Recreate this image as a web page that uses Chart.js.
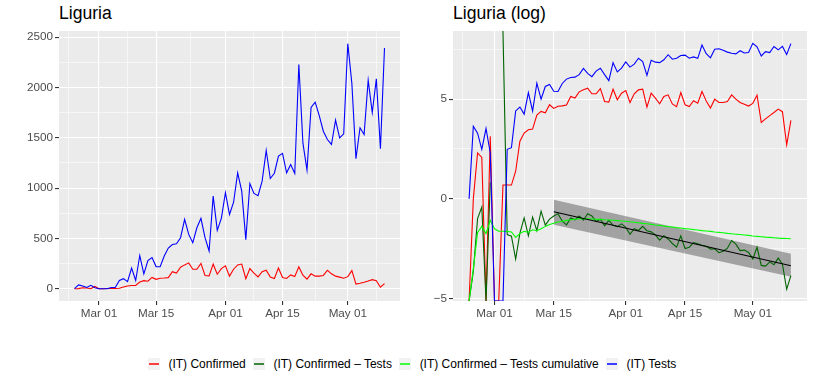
<!DOCTYPE html>
<html lang="en">
<head>
<meta charset="UTF-8">
<title>Liguria</title>
<script src="https://cdn.jsdelivr.net/npm/chart.js"></script>
<style>
  body { margin: 0; background: #fff; font-family: "Liberation Sans", Arial, sans-serif; }
  #page { position: relative; width: 814px; height: 380px; overflow: hidden; }
  .title { position: absolute; top: 3px; font-size: 17.6px; color: #000; white-space: nowrap; }
  canvas { position: absolute; top: 0; }
  #legend { position: absolute; left: 10px; top: 355px; width: 804px; height: 17px;
            display: flex; justify-content: center; align-items: center; font-size: 12px; color: #000; }
  .item { display: flex; align-items: center; margin-right: 7px; }
  .item:last-child { margin-right: 0; }
  .item svg { display: block; margin-right: 8.7px; }
</style>
</head>
<body>
<div id="page">
  <div class="title" style="left:59px">Liguria</div>
  <div class="title" style="left:453px">Liguria (log)</div>
  <canvas id="linChart" width="410" height="330" style="left:0;width:410px;height:330px"></canvas>
  <canvas id="logChart" width="404" height="330" style="left:410px;width:404px;height:330px"></canvas>
  <div id="legend"></div>
</div>
<script>
// daily values for Liguria, 2020-02-24 .. 2020-05-10
const firstDay = '2020-02-24';
const confirmed = [0, 1, 10, 8, 0, 23,
  0, 0, 2, 2, 2, 4, 18, 27, 32, 33,
  67, 80, 75, 112, 93, 104, 106, 110, 169, 156,
  214, 237, 257, 194, 194, 252, 132, 128, 244, 144,
  200, 228, 125, 194, 236, 245, 99, 200, 156, 117,
  169, 184, 117, 102, 206, 112, 102, 137, 121, 217,
  135, 95, 148, 125, 125, 132, 184, 148, 125, 115,
  105, 120, 180, 46, 55, 65, 76, 90, 79, 15, 51];
const tests = [1, 38, 27, 12, 34, 10,
  0, 0, 0, 12, 13, 82, 100, 70, 205, 82,
  330, 148, 280, 310, 220, 218, 325, 405, 440, 447,
  507, 690, 540, 457, 606, 700, 507, 375, 921, 580,
  700, 954, 738, 860, 1152, 970, 488, 1046, 947, 925,
  1069, 1374, 1096, 1148, 1318, 1346, 1152, 1235, 1146, 2229,
  1447, 1179, 1803, 1855, 1720, 1566, 1483, 1434, 1676, 1500,
  1540, 2436, 2040, 1292, 1600, 1533, 2073, 1752, 2086, 1392, 2394];
// log(cumulative confirmed / cumulative tests)
const cumulativeLog = [-Infinity, -3.5, -1.7, -1.38, -1.74, -1.07,
  -1.5, -1.62, -1.62, -1.63, -1.66, -1.93, -1.74, -1.63, -1.67, -1.55,
  -1.6, -1.5, -1.38, -1.28, -1.22, -1.16, -1.12, -1.08, -1.05, -1.02,
  -1.0, -0.99, -1.0, -1.01, -1.02, -1.03, -1.05, -1.06, -1.07, -1.09,
  -1.11, -1.12, -1.15, -1.17, -1.2, -1.23, -1.25, -1.28, -1.31, -1.33,
  -1.36, -1.39, -1.41, -1.44, -1.46, -1.49, -1.51, -1.54, -1.56, -1.59,
  -1.61, -1.63, -1.66, -1.68, -1.7, -1.73, -1.75, -1.77, -1.79, -1.81,
  -1.83, -1.86, -1.88, -1.9, -1.92, -1.93, -1.95, -1.97, -1.98, -1.99, -2.0];

// linear fit of log(confirmed/tests) from Mar 15, with its band
const fitDates = ['2020-03-15', '2020-05-10'];
const fitLine = [-0.65, -3.35];
const fitUpper = [-0.05, -2.75];
const fitLower = [-1.3, -3.9];

const tickDates = ['2020-03-01', '2020-03-15', '2020-04-01', '2020-04-15', '2020-05-01'];
const tickLabels = ['Mar 01', 'Mar 15', 'Apr 01', 'Apr 15', 'May 01'];
const outerDates = ['2020-02-15', '2020-05-15'];

const seriesNames = ['(IT) Confirmed', '(IT) Confirmed \u2013 Tests', '(IT) Confirmed \u2013 Tests cumulative', '(IT) Tests'];
const seriesColors = ['#ff0000', '#006400', '#00ff00', '#0000ff'];

const DAY = 86400000;
const origin = Date.parse(tickDates[0]);
const toDay = s => Math.round((Date.parse(s) - origin) / DAY);
const start = toDay(firstDay);
const days = confirmed.map((_, i) => start + i);

const majorX = tickDates.map(toDay);
const allMajorX = [toDay(outerDates[0])].concat(majorX, [toDay(outerDates[1])]);
const minorX = allMajorX.slice(1).map((v, i) => (v + allMajorX[i]) / 2);
const xTicks = majorX.concat(minorX).sort((a, b) => a - b);

// infinite logs sit on the panel edges, like ggplot draws them
const LOG_MIN = -5.12, LOG_MAX = 8.415;
const edge = v => v === -Infinity ? LOG_MIN : (v === Infinity ? LOG_MAX : v);
function logRatio(c, t) {
  if (c === 0 && t === 0) return null;
  return edge(Math.log(c / t));
}

const pts = arr => arr.map((v, i) => ({ x: days[i], y: v }));
const font = { family: '"Liberation Sans", Arial, sans-serif', size: 11.7 };

function xScale() {
  return {
    type: 'linear', min: -9.8, max: 73.8,
    afterBuildTicks: s => { s.ticks = xTicks.map(v => ({ value: v })); },
    afterFit: s => { s.height = 29; },
    border: { display: false },
    grid: {
      color: '#ffffff',
      lineWidth: c => majorX.includes(c.tick.value) ? 1.1 : 0.55,
      tickColor: c => majorX.includes(c.tick.value) ? '#333333' : 'rgba(0,0,0,0)',
      tickWidth: 1.1, tickLength: 4
    },
    ticks: {
      autoSkip: false, maxRotation: 0, minRotation: 0, padding: 2, color: '#4d4d4d', font,
      callback: v => { const k = majorX.indexOf(v); return k >= 0 ? tickLabels[k] : ''; }
    }
  };
}

function yScale(min, max, majors, minors, width, fmt) {
  return {
    type: 'linear', min, max,
    afterBuildTicks: s => { s.ticks = majors.concat(minors).sort((a, b) => a - b).map(v => ({ value: v })); },
    afterFit: s => { s.width = width; },
    border: { display: false },
    grid: {
      color: '#ffffff',
      lineWidth: c => majors.includes(c.tick.value) ? 1.1 : 0.55,
      tickColor: c => majors.includes(c.tick.value) ? '#333333' : 'rgba(0,0,0,0)',
      tickWidth: 1.1, tickLength: 4
    },
    ticks: {
      autoSkip: false, padding: 2, color: '#4d4d4d', font,
      callback: v => majors.includes(v) ? fmt(v) : ''
    }
  };
}

const panelBg = {
  id: 'panelBg',
  beforeDraw(chart) {
    const a = chart.chartArea, ctx = chart.ctx;
    ctx.save();
    ctx.fillStyle = '#ebebeb';
    ctx.fillRect(a.left, a.top, a.right - a.left, a.bottom - a.top);
    ctx.restore();
  }
};

function line(label, data, color) {
  return { label, data, borderColor: color, borderWidth: 1.1, pointRadius: 0, tension: 0, fill: false, spanGaps: false };
}

const common = {
  responsive: false, animation: false, devicePixelRatio: 1,
  plugins: { legend: { display: false }, tooltip: { enabled: false } },
  elements: { point: { radius: 0 } }
};

new Chart(document.getElementById('linChart'), {
  type: 'line',
  data: {
    datasets: [
      line(seriesNames[3], pts(tests), seriesColors[3]),
      line(seriesNames[0], pts(confirmed), seriesColors[0])
    ]
  },
  options: Object.assign({}, common, {
    layout: { padding: { top: 31, right: 10, left: 0, bottom: 0 } },
    scales: {
      x: xScale(),
      y: yScale(-122, 2562, [0, 500, 1000, 1500, 2000, 2500], [250, 750, 1250, 1750, 2250], 59, v => String(v))
    }
  }),
  plugins: [panelBg]
});

const lnEdge = v => edge(Math.log(v));
const fitPts = arr => arr.map((v, i) => ({ x: toDay(fitDates[i]), y: v }));

new Chart(document.getElementById('logChart'), {
  type: 'line',
  data: {
    datasets: [
      line('fit', fitPts(fitLine), '#000000'),
      line(seriesNames[3], pts(tests.map(lnEdge)), seriesColors[3]),
      line(seriesNames[2], pts(cumulativeLog.map(edge)), seriesColors[2]),
      line(seriesNames[1], pts(confirmed.map((c, i) => logRatio(c, tests[i]))), seriesColors[1]),
      line(seriesNames[0], pts(confirmed.map(lnEdge)), seriesColors[0]),
      { label: 'band', data: fitPts(fitUpper), borderWidth: 0, pointRadius: 0, tension: 0,
        backgroundColor: 'rgba(0,0,0,0.31)', fill: '+1' },
      { label: 'band-low', data: fitPts(fitLower), borderWidth: 0, pointRadius: 0, tension: 0, fill: false }
    ]
  },
  options: Object.assign({}, common, {
    layout: { padding: { top: 31, right: 7, left: 0, bottom: 0 } },
    scales: {
      x: xScale(),
      y: yScale(LOG_MIN, LOG_MAX, [-5, 0, 5], [-2.5, 2.5, 7.5], 43, v => v < 0 ? '\u2212' + Math.abs(v) : String(v))
    }
  }),
  plugins: [panelBg]
});

// legend below both panels
const SVGNS = 'http://www.w3.org/2000/svg';
const legend = document.getElementById('legend');
seriesNames.forEach((name, i) => {
  const item = document.createElement('div');
  item.className = 'item';
  const svg = document.createElementNS(SVGNS, 'svg');
  svg.setAttribute('width', '12');
  svg.setAttribute('height', '12');
  const box = document.createElementNS(SVGNS, 'rect');
  box.setAttribute('width', '12');
  box.setAttribute('height', '12');
  box.setAttribute('fill', '#f2f2f2');
  const stroke = document.createElementNS(SVGNS, 'line');
  stroke.setAttribute('x1', '1');
  stroke.setAttribute('x2', '11');
  stroke.setAttribute('y1', '6');
  stroke.setAttribute('y2', '6');
  stroke.setAttribute('stroke', seriesColors[i]);
  stroke.setAttribute('stroke-width', '1.5');
  svg.appendChild(box);
  svg.appendChild(stroke);
  const text = document.createElement('span');
  text.textContent = name;
  item.appendChild(svg);
  item.appendChild(text);
  legend.appendChild(item);
});
</script>
</body>
</html>
